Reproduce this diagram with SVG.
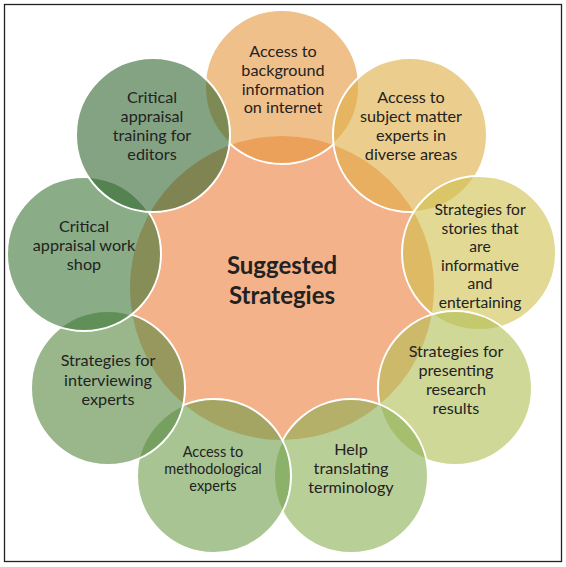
<svg xmlns="http://www.w3.org/2000/svg" width="566" height="567" viewBox="0 0 566 567">
<style>
.c{stroke:#FFFFFF;stroke-width:2;fill-opacity:0.6}
.t{font-family:Lato,"Liberation Sans",sans-serif;font-size:16.2px;fill:#222222;text-anchor:middle}
.s{font-size:14.5px}
.m{font-size:15.6px}
.h{font-family:Lato,"Liberation Sans",sans-serif;font-size:24px;font-weight:bold;fill:#222222;text-anchor:middle}
</style>
<rect x="4.5" y="4.5" width="557" height="557" fill="#FFFFFF" stroke="#222222" stroke-width="1.3"/>
<g id="center">
<circle cx="282" cy="288" r="153" fill="#F4B28A" stroke="#FFFFFF" stroke-width="2"/>
</g>
<g id="n1"><circle class="c" cx="282" cy="87" r="77" fill="#E6963C"/></g>
<g id="n2"><circle class="c" cx="410" cy="135" r="77" fill="#DEAD43"/></g>
<g id="n3"><circle class="c" cx="479" cy="253" r="77" fill="#CFC04D"/></g>
<g id="n4"><circle class="c" cx="455" cy="388" r="77" fill="#B1BE53"/></g>
<g id="n5"><circle class="c" cx="351" cy="476" r="77" fill="#8AAF53"/></g>
<g id="n6"><circle class="c" cx="214" cy="476" r="77" fill="#6E9D49"/></g>
<g id="n7"><circle class="c" cx="108" cy="388" r="77" fill="#57873F"/></g>
<g id="n8"><circle class="c" cx="84" cy="254" r="77" fill="#3C7535"/></g>
<g id="n9"><circle class="c" cx="153" cy="135" r="77" fill="#32662F"/></g>
<g id="labels">
<text class="h" x="282" y="274">Suggested</text>
<text class="h" x="282" y="304">Strategies</text>
<text class="t" x="283"><tspan x="283" y="57">Access to</tspan><tspan x="283" y="76">background</tspan><tspan x="283" y="95">information</tspan><tspan x="283" y="113">on internet</tspan></text>
<text class="t" x="411"><tspan x="411" y="103">Access to</tspan><tspan x="411" y="122">subject matter</tspan><tspan x="411" y="141">experts in</tspan><tspan x="411" y="160">diverse areas</tspan></text>
<text class="t m" x="480"><tspan x="480" y="215">Strategies for</tspan><tspan x="480" y="233.5">stories that</tspan><tspan x="480" y="252">are</tspan><tspan x="480" y="270.5">informative</tspan><tspan x="480" y="289">and</tspan><tspan x="480" y="307.5">entertaining</tspan></text>
<text class="t" x="456"><tspan x="456" y="357">Strategies for</tspan><tspan x="456" y="376">presenting</tspan><tspan x="456" y="395">research</tspan><tspan x="456" y="414">results</tspan></text>
<text class="t" x="351"><tspan x="351" y="455">Help</tspan><tspan x="351" y="474">translating</tspan><tspan x="351" y="493">terminology</tspan></text>
<text class="t s" x="213"><tspan x="213" y="457">Access to</tspan><tspan x="213" y="474">methodological</tspan><tspan x="213" y="491">experts</tspan></text>
<text class="t" x="108"><tspan x="108" y="366">Strategies for</tspan><tspan x="108" y="386">interviewing</tspan><tspan x="108" y="405">experts</tspan></text>
<text class="t" x="84"><tspan x="84" y="232">Critical</tspan><tspan x="84" y="251">appraisal work</tspan><tspan x="84" y="270">shop</tspan></text>
<text class="t" x="152"><tspan x="152" y="103">Critical</tspan><tspan x="152" y="122">appraisal</tspan><tspan x="152" y="141">training for</tspan><tspan x="152" y="160">editors</tspan></text>
</g>
</svg>
